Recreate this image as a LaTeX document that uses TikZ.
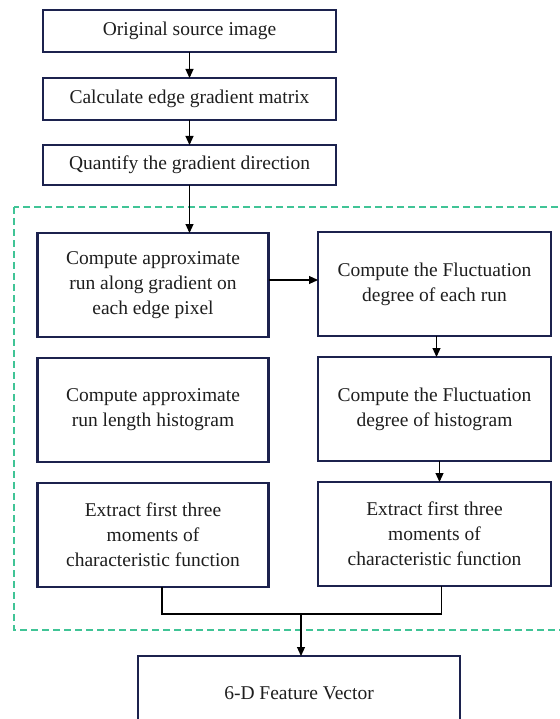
\documentclass[tikz,border=0pt]{standalone}
\usepackage{fontspec}
\setmainfont{Liberation Serif}
\usetikzlibrary{arrows.meta, positioning}
\definecolor{AzulMarino}{RGB}{28,34,78}
\definecolor{VerdeZona}{RGB}{64,196,150}
\definecolor{GrisTexto}{RGB}{30,30,30}

\begin{document}
\begin{tikzpicture}[
  x=1pt, y=-1pt,
  font=\fontsize{19.5}{25}\selectfont,
  >={Triangle[length=9pt, width=8pt]},
  caja/.style={draw=AzulMarino, line width=2.2pt, fill=white, text=GrisTexto,
    align=center, inner sep=2pt, outer sep=0pt},
  ancha/.style={caja, minimum width=293pt, minimum height=42pt},
  paso/.style={caja, minimum width=231pt, minimum height=104pt},
  flecha/.style={->, line width=1.1pt, black},
  linea/.style={line width=1.3pt, black},
  zona/.style={draw=VerdeZona, dashed, dash pattern=on 7pt off 4pt, line width=2pt},
]
\useasboundingbox (0,0) rectangle (559,719);

% --- Zona discontinua ---
\draw[zona] (14,207) rectangle (600,630);

% --- Cadena superior ---
\node[ancha] (orig) at (189.5,31) {Original source image};
\node[ancha, below=26pt of orig] (grad) {Calculate edge gradient matrix};
\node[ancha, below=25pt of grad, minimum height=40pt] (quant) {Quantify the gradient direction};

% --- Columna izquierda ---
\node[paso] (runa) at (153,285) {Compute approximate\\ run along gradient on\\ each edge pixel};
\node[paso, below=21pt of runa] (hist) {Compute approximate\\ run length histogram};
\node[paso, below=21pt of hist] (moml) {Extract first three\\ moments of\\ characteristic function};

% --- Columna derecha ---
\node[paso, minimum width=233pt] (flucr) at (434.5,284) {Compute the Fluctuation\\ degree of each run};
\node[paso, minimum width=233pt, below=21pt of flucr] (fluch) {Compute the Fluctuation\\ degree of histogram};
\node[paso, minimum width=233pt, below=21pt of fluch] (momr) {Extract first three\\ moments of\\ characteristic function};

% --- Salida ---
\node[caja, minimum width=322pt, minimum height=74pt] (vec) at (299,693) {6-D Feature Vector};
\coordinate (merge) at (301,614);

\draw[flecha] (orig) -- (grad);
\draw[flecha] (grad) -- (quant);
\draw[flecha] (quant.south) -- (quant.south |- runa.north);
\draw[flecha] ([yshift=5pt]runa.east) -- ([yshift=5pt]runa.east -| flucr.west);
\draw[flecha] ([xshift=2pt]flucr.south) -- ([xshift=2pt]fluch.north);
\draw[flecha] ([xshift=5pt]fluch.south) -- ([xshift=5pt]momr.north);
\draw[linea] ([xshift=9pt]moml.south) |- (merge) -| ([xshift=7pt]momr.south);
\draw[flecha] (merge) -- (merge |- vec.north);

\end{tikzpicture}
\end{document}
